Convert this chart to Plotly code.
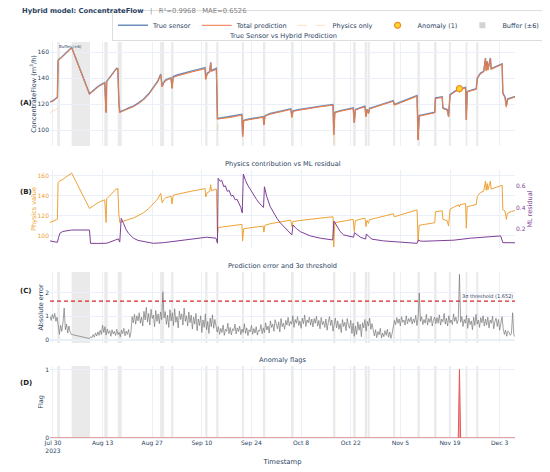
import pandas as pd
import plotly.graph_objects as go
from plotly.subplots import make_subplots

# ---- data ----
base_day = pd.Timestamp("2023-07-30")

# breakpoints of the flow series, in days after 2023-07-30 00:00
flow_day = [
    -0.833, -0.4, 0.1, 0.6, 1.0, 1.25, 1.45, 1.7, 2.2, 2.9, 3.6, 4.3, 4.9, 5.28,
    10.3, 10.9, 11.6, 12.4, 13.3, 14.1, 14.6, 15.0, 15.15, 15.8, 16.5, 17.2, 17.9, 18.1, 18.3, 18.6, 18.85,
    19.2, 19.8, 20.5, 21.5, 22.7, 24.0, 25.5, 27.0, 28.3, 29.5, 30.4, 30.8, 31.2, 31.8, 32.6, 33.3, 33.6, 33.9,
    35.0, 36.5, 38.0, 39.5, 41.0, 42.2, 42.9, 43.1, 43.5, 44.2, 44.5, 44.7, 45.4, 46.1, 46.4, 46.6,
    47.5, 48.8, 50.0, 51.3, 52.5, 53.3, 53.5, 53.8, 55.0, 56.5, 58.0, 59.3, 59.5, 59.8,
    61.3, 62.7, 64.1, 65.5, 67.1, 67.4, 67.7, 69.5, 71.5, 73.5, 75.5, 77.5, 79.0, 79.2, 79.5,
    81.0, 82.9, 84.7, 85.0, 85.3, 86.7, 88.0, 88.3, 88.6, 89.0, 89.3,
    91.0, 92.7, 94.4, 96.0, 96.3, 97.5, 99.2, 101.0, 102.7, 103.0, 103.3, 104.8, 106.3, 107.7, 107.9,
    109.8, 110.0, 110.6, 111.2, 111.6, 112.0, 113.3, 114.5, 114.667, 114.83, 115.5, 116.4, 116.6, 116.85,
    118.0, 119.4, 119.7, 120.6, 121.5, 122.0, 122.2, 122.5, 122.7, 123.4, 123.6, 124.8, 126.0, 126.7, 126.9,
    127.5, 127.9, 128.2, 129.3, 130.333,
]
true_flow = [
    121.6, 122.0, 122.7, 123.8, 124.6, 125.2, 153.2, 154.6, 155.4, 157.2, 159.0, 160.8, 162.5, 163.5,
    127.8, 129.4, 131.2, 132.8, 134.6, 135.7, 136.4, 113.6, 137.4, 139.7, 142.2, 145.0, 147.4, 146.5, 147.7, 121.2, 113.6,
    114.4, 114.9, 115.9, 117.1, 118.4, 120.7, 123.6, 127.8, 132.3, 137.3, 143.0, 133.6, 136.5, 138.6, 139.6, 140.3, 132.3, 141.1,
    142.3, 143.6, 144.7, 145.7, 146.6, 147.3, 148.0, 139.4, 143.8, 145.0, 152.0, 145.8, 146.6, 147.4, 108.8, 108.9,
    109.2, 109.7, 110.1, 110.7, 111.3, 112.0, 95.2, 107.5, 108.3, 108.9, 109.7, 110.3, 104.1, 111.0,
    112.7, 113.7, 114.6, 115.4, 116.3, 110.0, 114.8, 115.8, 116.8, 117.7, 118.4, 119.1, 119.6, 96.5, 113.7,
    114.9, 115.9, 117.0, 105.9, 115.8, 117.2, 118.3, 110.5, 116.0, 112.8, 116.7,
    118.2, 119.6, 121.1, 122.6, 119.6, 120.9, 122.7, 124.7, 126.5, 92.6, 111.1, 112.0, 112.9, 113.7, 124.7,
    125.5, 117.0, 116.2, 115.7, 110.5, 127.2, 129.7, 131.6, 131.8, 131.9, 132.2, 132.8, 108.0, 129.7,
    130.7, 131.8, 140.0, 143.8, 145.1, 155.4, 146.0, 152.9, 146.5, 155.4, 147.2, 148.7, 150.2, 151.0, 128.5,
    125.4, 118.3, 123.9, 124.9, 125.8,
]
pred_flow = [
    121.3, 121.7, 122.3, 123.5, 124.3, 124.9, 152.9, 154.3, 155.1, 156.8, 158.7, 160.4, 162.1, 163.2,
    127.5, 129.0, 130.8, 132.4, 134.2, 135.3, 136.0, 113.3, 137.0, 139.3, 141.8, 144.6, 147.0, 146.1, 147.3, 120.9, 113.3,
    114.0, 114.5, 115.5, 116.6, 117.9, 120.1, 123.0, 127.2, 131.7, 136.7, 142.4, 133.1, 135.9, 138.0, 138.9, 139.6, 131.9, 140.4,
    141.5, 142.8, 143.9, 144.9, 145.8, 146.5, 147.2, 138.9, 143.1, 144.3, 151.6, 145.1, 145.9, 146.7, 108.4, 108.5,
    108.8, 109.3, 109.6, 110.2, 110.8, 111.5, 94.9, 107.1, 107.8, 108.4, 109.2, 109.8, 103.8, 110.5,
    112.2, 113.2, 114.1, 114.9, 115.8, 109.7, 114.3, 115.3, 116.3, 117.2, 117.9, 118.6, 119.1, 96.2, 113.2,
    114.4, 115.4, 116.5, 105.6, 115.3, 116.7, 117.8, 110.2, 115.5, 112.5, 116.2,
    117.7, 119.1, 120.6, 122.1, 119.1, 120.4, 122.2, 124.2, 126.0, 92.3, 110.6, 111.5, 112.4, 113.2, 124.2,
    125.0, 116.5, 115.7, 115.2, 110.2, 126.7, 129.2, 131.1, 129.0, 131.4, 131.7, 132.3, 107.7, 129.2,
    130.2, 131.3, 139.5, 143.3, 144.6, 155.0, 145.5, 152.5, 146.0, 155.0, 146.7, 148.2, 149.7, 150.5, 128.1,
    124.9, 117.9, 123.4, 124.4, 125.3,
]
phys_flow = [
    113.4, 113.9, 114.6, 115.5, 116.2, 116.6, 153.0, 154.3, 155.0, 156.6, 158.5, 160.1, 161.6, 162.6,
    127.4, 129.0, 130.8, 132.4, 134.2, 135.3, 136.0, 113.3, 137.0, 139.3, 141.8, 144.6, 147.0, 146.1, 147.3, 120.9, 113.3,
    114.0, 114.5, 115.5, 116.6, 117.9, 120.1, 123.0, 127.2, 131.7, 136.7, 142.4, 133.1, 135.9, 138.0, 138.9, 139.6, 131.9, 140.4,
    141.5, 142.8, 143.9, 144.9, 145.8, 146.5, 147.2, 138.9, 143.1, 144.3, 151.0, 145.1, 145.9, 146.7, 99.5, 108.4,
    108.8, 109.3, 109.6, 110.2, 110.8, 111.5, 94.9, 107.1, 107.8, 108.4, 109.2, 109.8, 103.8, 110.5,
    112.2, 113.2, 114.1, 114.9, 115.8, 109.3, 114.3, 115.3, 116.3, 117.2, 117.9, 118.6, 119.1, 89.0, 113.2,
    114.4, 115.4, 116.5, 104.3, 115.3, 116.7, 117.8, 109.3, 115.5, 112.5, 116.2,
    117.7, 119.1, 120.6, 122.1, 119.1, 120.4, 122.2, 124.2, 126.0, 94.3, 110.6, 111.5, 112.4, 113.2, 124.2,
    125.0, 116.5, 115.7, 115.2, 109.8, 126.7, 129.2, 131.0, 128.9, 131.3, 131.6, 132.2, 107.7, 129.2,
    130.2, 131.3, 139.5, 143.3, 144.6, 154.6, 145.5, 152.2, 146.0, 154.6, 146.7, 148.2, 149.7, 150.5, 126.2,
    124.9, 116.6, 122.6, 124.4, 125.3,
]

# ML residual breakpoints (days after 2023-07-30)
resid_day = [
    -0.833, 0.5, 1.25, 1.6, 2.0, 2.8, 3.9, 5.28, 10.3, 10.6, 12.5, 15.2, 17.5, 18.45, 18.85,
    19.25, 19.9, 20.6, 21.3, 22.7, 24.0, 25.5, 28.3, 31.2, 34.0, 36.8, 40.0, 43.4, 46.0, 46.4,
    46.6, 47.2, 47.6, 48.2, 48.6, 49.2, 49.7, 50.3, 50.8, 51.4, 51.9, 52.5, 53.0, 53.4,
    53.7, 54.3, 55.0, 55.8, 56.6, 57.4, 58.2, 59.0, 59.4, 59.65, 60.3, 61.3, 62.2, 63.2, 64.1,
    65.1, 66.2, 67.4, 67.7, 68.7, 69.8, 71.2, 72.6, 75.4, 78.9, 79.25, 80.1, 81.0, 82.0, 84.8,
    85.05, 85.9, 86.7, 88.2, 88.4, 89.2, 90.0, 93.3, 96.1, 99.5, 102.7, 103.1, 103.6, 104.6,
    108.4, 113.1, 117.8, 122.5, 126.3, 126.9, 128.5, 130.333,
]
ml_resid = [
    0.093, 0.088, 0.080, 0.127, 0.165, 0.180, 0.186, 0.193, 0.193, 0.071, 0.070, 0.072, 0.100, 0.112, 0.082,
    0.300, 0.255, 0.200, 0.163, 0.118, 0.098, 0.087, 0.071, 0.077, 0.088, 0.100, 0.113, 0.127, 0.118, 0.072,
    0.668, 0.640, 0.650, 0.590, 0.600, 0.548, 0.556, 0.505, 0.512, 0.470, 0.476, 0.430, 0.400, 0.350,
    0.707, 0.650, 0.600, 0.560, 0.515, 0.475, 0.440, 0.410, 0.400, 0.590, 0.500, 0.407, 0.350, 0.300, 0.260,
    0.224, 0.185, 0.148, 0.239, 0.205, 0.178, 0.155, 0.139, 0.118, 0.102, 0.276, 0.224, 0.180, 0.148, 0.127,
    0.169, 0.145, 0.127, 0.110, 0.157, 0.130, 0.109, 0.093, 0.087, 0.078, 0.071, 0.102, 0.092, 0.090,
    0.093, 0.100, 0.118, 0.127, 0.139, 0.077, 0.079, 0.076,
]

# absolute error, 8-hourly; first block before the data gap, second after it
err_start_1 = "2023-07-29 04:00"
err_block_1 = [
    1.00, 0.82, 1.08, 0.90, 1.12, 0.78, 0.96, 0.55, 0.22, 0.61, 0.35, 0.74, 1.35, 0.42, 0.66, 0.28, 0.58, 0.33, 0.22,
]
err_start_2 = "2023-08-09 08:00"
err_block_2 = [
    0.04, 0.12, 0.08, 0.21, 0.10, 0.28, 0.15, 0.33, 0.18, 0.40, 0.22, 0.62, 0.30, 0.55, 0.19, 0.45, 0.26, 0.38, 0.14, 0.42, 0.24,
    0.35, 0.17, 0.44, 0.21, 0.31, 0.12, 0.40, 0.25, 0.48, 0.16, 0.36, 0.22, 0.43, 0.09, 0.30, 0.98, 0.72, 1.08, 0.66, 1.02, 0.80,
    1.15, 0.70, 0.96, 0.58, 1.21, 0.84, 1.38, 0.75, 1.12, 0.62, 1.30, 0.90, 1.05, 0.55, 1.25, 0.78, 1.10, 0.68, 1.18, 0.85, 2.05,
    0.92, 1.20, 0.65, 1.05, 0.52, 1.28, 0.80, 1.15, 0.60, 1.32, 0.74, 0.98, 0.50, 1.22, 0.86, 1.10, 0.62, 1.35, 0.78, 1.02, 0.58,
    1.18, 0.72, 1.05, 0.45, 0.96, 0.66, 1.12, 0.38, 0.88, 0.60, 1.02, 0.30, 0.84, 0.52, 1.10, 0.42, 0.78, 0.26, 0.92, 0.55, 1.06,
    0.48, 0.86, 0.62, 0.32, 0.55, 0.22, 0.48, 0.30, 0.62, 0.18, 0.44, 0.35, 0.70, 0.25, 0.52, 0.20, 0.46, 0.38, 0.66, 0.24, 0.50,
    0.34, 0.58, 0.21, 0.45, 0.30, 0.68, 0.26, 0.50, 0.17, 0.42, 0.33, 0.61, 0.22, 0.47, 0.28, 0.55, 0.19, 0.40, 0.36, 0.64, 0.25,
    0.50, 0.30, 0.72, 0.41, 0.58, 0.28, 0.80, 0.52, 0.66, 0.35, 0.85, 0.60, 0.46, 0.76, 0.32, 0.90, 0.55, 0.70, 0.44, 0.82, 0.62,
    0.95, 0.58, 0.78, 0.66, 1.02, 0.52, 0.86, 0.70, 0.98, 0.60, 0.80, 0.48, 0.92, 0.68, 1.05, 0.56, 0.84, 0.72, 0.96, 0.62, 0.88,
    0.54, 0.90, 0.70, 1.00, 0.58, 0.82, 0.46, 0.95, 0.64, 0.78, 0.52, 0.88, 0.40, 0.74, 0.98, 0.60, 0.84, 0.36, 0.72, 0.92, 0.50,
    0.80, 0.44, 0.68, 0.30, 0.86, 0.56, 0.74, 0.38, 0.90, 0.62, 0.48, 0.82, 0.26, 0.70, 0.14, 0.58, 0.22, 0.76, 0.40, 0.66, 0.12,
    0.72, 0.50, 0.86, 0.36, 0.78, 0.58, 0.92, 0.44, 0.68, 0.30, 0.15, 0.42, 0.08, 0.34, 0.20, 0.48, 0.06, 0.28, 0.12, 0.38, 0.18,
    0.44, 0.10, 0.32, 0.05, 0.26, 0.52, 0.82, 0.64, 0.94, 0.70, 0.88, 0.58, 0.98, 0.74, 0.84, 0.62, 1.02, 0.68, 0.90, 0.76, 0.96,
    0.66, 0.88, 0.72, 1.04, 0.60, 0.92, 2.00, 0.78, 0.98, 0.64, 0.86, 0.70, 1.08, 0.62, 0.90, 0.74, 1.00, 0.58, 0.84, 0.96, 0.68,
    0.94, 0.70, 1.06, 0.62, 0.88, 0.76, 1.12, 0.66, 0.92, 0.58, 1.02, 0.72, 0.84, 0.64, 1.10, 0.78, 0.96, 0.68, 0.86, 2.80, 0.74,
    0.98, 0.56, 0.86, 0.70, 1.04, 0.48, 0.92, 0.64, 0.80, 0.42, 0.96, 0.60, 1.08, 0.66, 0.84, 0.52, 0.94, 0.72, 1.02, 0.58, 0.88,
    0.62, 0.96, 0.50, 0.84, 0.70, 1.00, 0.46, 0.78, 0.92, 0.56, 0.86, 0.40, 0.74, 0.98, 0.48, 0.22, 0.40, 0.14, 0.36, 0.30, 0.18,
    0.26, 1.15, 0.20, 0.12,
]
threshold = 1.652

# buffer windows around detected events (days after 2023-07-30)
buffer_start = [1.21, 5.28, 14.49, 18.28, 30.23, 33.33, 42.94, 46.05, 53.30, 59.24, 67.15,
                79.00, 84.66, 87.94, 88.79, 95.96, 102.80, 107.50, 111.70, 116.40, 119.40]
buffer_end = [1.98, 10.45, 15.45, 19.41, 31.36, 33.98, 43.59, 46.69, 53.87, 59.89, 67.88,
              79.66, 85.40, 88.62, 89.35, 96.53, 103.50, 108.20, 112.30, 116.90, 120.00]

anomaly_time = ["2023-11-21 16:00"]
anomaly_value = [131.8]

flag_time = ["2023-07-29 04:00", "2023-11-21 08:00", "2023-11-21 16:00", "2023-11-22 00:00", "2023-12-07 08:00"]
flag_value = [0, 0, 1, 0, 0]

assert len(flow_day) == len(true_flow) == len(pred_flow) == len(phys_flow)
assert len(resid_day) == len(ml_resid)

to_time = lambda days: base_day + pd.to_timedelta(days, unit="D")
flow_time = to_time(flow_day)
resid_time = to_time(resid_day)
err_time = list(pd.date_range(err_start_1, periods=len(err_block_1), freq="8h")) + \
           list(pd.date_range(err_start_2, periods=len(err_block_2), freq="8h"))
err_value = err_block_1 + err_block_2

# ---- figure ----
C_TRUE = "#6c8ebf"
C_PRED = "#ef7446"
C_PHYS = "#eda236"
C_RES = "#7e3f98"
TXT = "#2a3f5f"

fig = make_subplots(
    rows=4, cols=1, shared_xaxes=True,
    specs=[[{}], [{"secondary_y": True}], [{}], [{}]],
    subplot_titles=["True Sensor vs Hybrid Prediction", "Physics contribution vs ML residual",
                    "Prediction error and 3σ threshold", "Anomaly flags"],
)

fig.add_trace(go.Scatter(x=flow_time, y=true_flow, mode="lines", name="True sensor",
                         line=dict(color=C_TRUE, width=1.4)), row=1, col=1)
fig.add_trace(go.Scatter(x=flow_time, y=pred_flow, mode="lines", name="Total prediction",
                         line=dict(color=C_PRED, width=1)), row=1, col=1)
fig.add_trace(go.Scatter(x=flow_time, y=phys_flow, mode="lines", name="Physics only", opacity=0.3,
                         line=dict(color=C_PHYS, width=1, dash="dash")), row=1, col=1)
fig.add_trace(go.Scatter(x=anomaly_time, y=anomaly_value, mode="markers", name="Anomaly (1)",
                         marker=dict(color="#ffd92f", size=6, line=dict(color="#f08a24", width=1.2))),
              row=1, col=1)
fig.add_trace(go.Scatter(x=[anomaly_time[0]], y=[None], mode="markers", name="Buffer (±6)",
                         marker=dict(color="lightgray", size=6, symbol="square")), row=1, col=1)

fig.add_trace(go.Scatter(x=flow_time, y=phys_flow, mode="lines", showlegend=False,
                         line=dict(color=C_PHYS, width=1)), row=2, col=1, secondary_y=False)
fig.add_trace(go.Scatter(x=resid_time, y=ml_resid, mode="lines", showlegend=False,
                         line=dict(color=C_RES, width=1)), row=2, col=1, secondary_y=True)

fig.add_trace(go.Scatter(x=err_time, y=err_value, mode="lines", showlegend=False,
                         line=dict(color="#777777", width=0.7)), row=3, col=1)
fig.add_hline(y=threshold, row=3, col=1, line=dict(color="#d62728", width=1.3, dash="4px,3px"),
              annotation_text="3σ threshold (%.3f)" % threshold, annotation_position="top right",
              annotation_font=dict(size=5, color=TXT))

fig.add_trace(go.Scatter(x=flag_time, y=flag_value, mode="lines", showlegend=False, fill="tozeroy",
                         line=dict(color="#e45756", width=1), fillcolor="rgba(228,87,86,0.55)"),
              row=4, col=1)

for row in (1, 3, 4):
    for i, (s, e) in enumerate(zip(buffer_start, buffer_end)):
        extra = {}
        if row == 1 and i == 0:
            extra = dict(annotation_text="Buffer (±6)", annotation_position="top left",
                         annotation_font=dict(size=4, color=TXT))
        fig.add_vrect(x0=to_time(s), x1=to_time(e), row=row, col=1, fillcolor="#d0d0d0",
                      opacity=0.45, line_width=0, layer="below", **extra)

# layout: the page body adds 8px around the figure, so the figure is 8px smaller
doms = {"yaxis": [0.7374, 1.0], "yaxis2": [0.4798, 0.6768], "yaxis3": [0.4798, 0.6768],
        "yaxis4": [0.2399, 0.4192], "yaxis5": [0.0, 0.1818]}
for ax, dom in doms.items():
    fig.layout[ax].domain = dom
for ax in ("xaxis", "xaxis2", "xaxis3", "xaxis4"):
    fig.layout[ax].domain = [0, 1]
for ann, top in zip(fig.layout.annotations[:4], [1.0, 0.6768, 0.4192, 0.1818]):
    ann.update(x=0.5, y=top, font=dict(size=6.6, color=TXT))

tick = dict(size=6)
fig.update_yaxes(automargin=False, tickfont=tick, title_font=dict(size=6.5), title_standoff=0)
fig.update_xaxes(automargin=False, tickfont=tick, dtick=14 * 86400000, tick0="2023-07-30")

fig.update_yaxes(range=[87.7, 167.7], dtick=20, title_text="ConcentrateFlow (m<sup>3</sup>/h)", row=1, col=1)
fig.update_yaxes(range=[88, 165.7], dtick=20, title_text="Physics value",
                 title_font_color=C_PHYS, tickfont_color=C_PHYS, row=2, col=1, secondary_y=False)
fig.update_yaxes(range=[0.028, 0.744], dtick=0.2, showgrid=False, title_text="ML residual",
                 title_font_color=C_RES, tickfont_color=C_RES, row=2, col=1, secondary_y=True)
fig.update_yaxes(range=[-0.15, 2.9], dtick=1, title_text="Absolute error", row=3, col=1)
fig.update_yaxes(range=[0, 1.05], dtick=1, title_text="Flag", row=4, col=1)
fig.update_xaxes(title_text="Timestamp", title_font=dict(size=6.8), title_standoff=6, row=4, col=1)

for label, yc in [("(A)", 0.861), ("(B)", 0.621), ("(C)", 0.371), ("(D)", 0.124)]:
    fig.add_annotation(text="<b>%s</b>" % label, x=-0.069, y=yc, xref="paper", yref="paper",
                       showarrow=False, font=dict(size=7, color="#222222"))

fig.update_layout(
    template="plotly_white",
    width=542, height=464,
    margin=dict(l=42, r=35, t=34, b=34, autoexpand=False),
    font=dict(family="DejaVu Sans, Verdana, sans-serif", size=6.5, color=TXT),
    title=dict(text="<b>Hybrid model: ConcentrateFlow</b>\u00a0\u00a0\u00a0<span style='color:#7f7f7f'>"
                    "|\u00a0\u00a0\u00a0R²=0.9968\u00a0\u00a0\u00a0MAE=0.6526</span>",
               x=0.026, xanchor="left", y=0.9935, yanchor="middle", font=dict(size=6.8, color=TXT)),
    legend=dict(orientation="h", x=1.0645, xanchor="right", y=1.003, yanchor="bottom",
                bordercolor="#dddddd", borderwidth=1, bgcolor="white", font=dict(size=6.5)),
    showlegend=True,
)

fig.write_html("out.html")
